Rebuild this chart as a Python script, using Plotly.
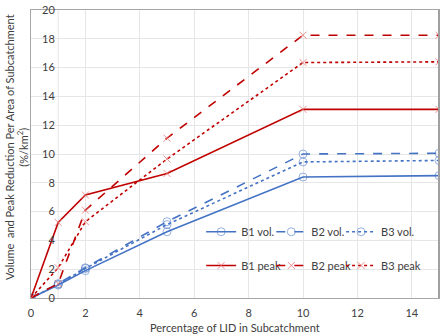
import plotly.graph_objects as go

x_vals = [0, 1, 2, 5, 10, 15]
b1_vol = [0, 0.9, 1.9, 4.6, 8.4, 8.5]
b2_vol = [0, 1.0, 2.1, 5.3, 10.0, 10.05]
b3_vol = [0, 0.95, 2.05, 5.1, 9.45, 9.55]
b1_peak = [0, 5.25, 7.15, 8.65, 13.1, 13.1]
b2_peak = [0, 1.0, 6.1, 11.1, 18.25, 18.25]
b3_peak = [0, 2.1, 5.3, 9.65, 16.35, 16.4]

blue = "#4472C4"
red = "#C00000"
font = "Lato"
txt = "#404040"

fig = go.Figure()

vol_series = [("B1 vol.", b1_vol, "solid"), ("B2 vol.", b2_vol, "dash"), ("B3 vol.", b3_vol, "dot")]
peak_series = [("B1 peak", b1_peak, "solid"), ("B2 peak", b2_peak, "dash"), ("B3 peak", b3_peak, "dot")]

col_x = [0.417, 0.589, 0.760]
row_y = [0.230, 0.113]

legend_defs = {}
k = 1
for row, (series, color, msym, mcol) in enumerate([
        (vol_series, blue, "circle-open", "rgba(68,114,196,0.55)"),
        (peak_series, red, "x-thin-open", "rgba(230,120,120,0.8)")]):
    for col, (name, ys, dash) in enumerate(series):
        lname = "legend" if k == 1 else f"legend{k}"
        fig.add_trace(go.Scatter(
            x=x_vals, y=ys, name=name, mode="lines+markers",
            line=dict(color=color, width=1.6, dash=dash),
            marker=dict(symbol=msym, size=8 if row == 0 else 7, color=mcol,
                        line=dict(width=1, color=mcol)),
            legend=lname,
        ))
        legend_defs[lname] = dict(x=col_x[col], y=row_y[row], xanchor="left", yanchor="middle",
                                  bgcolor="rgba(255,255,255,0)", itemwidth=30,
                                  font=dict(size=11, color=txt))
        k += 1

# faint extra vertical gridline at x=1
fig.add_shape(type="line", xref="x", yref="paper", x0=1, x1=1, y0=0, y1=1,
              line=dict(color="#e6e6e6", width=1), layer="below")
# darker right border
fig.add_shape(type="line", xref="paper", yref="paper", x0=1, x1=1, y0=0, y1=1,
              line=dict(color="#a0a0a0", width=2))

fig.update_layout(
    width=447, height=335,
    margin=dict(l=31, r=8, t=10, b=37, autoexpand=False),
    paper_bgcolor="white", plot_bgcolor="white",
    font=dict(family=font, size=11, color=txt),
    showlegend=True,
    xaxis=dict(range=[0, 15], tick0=0, dtick=2, showgrid=True, gridcolor="#e6e6e6",
               showline=True, linecolor="#a6a6a6", linewidth=1, mirror=True,
               ticks="", zeroline=False, ticklabelstandoff=5, automargin=False,
               tickfont=dict(size=11, color=txt)),
    yaxis=dict(range=[0, 20], tick0=0, dtick=2, showgrid=True, gridcolor="#e6e6e6",
               showline=True, linecolor="#a6a6a6", linewidth=1, mirror=True,
               ticks="", zeroline=False, ticklabelposition="outside", ticklabelstandoff=-27,
               automargin=False, tickfont=dict(size=11, color=txt)),
    **legend_defs,
)

fig.add_annotation(
    text="Percentage of LID in Subcatchment",
    xref="paper", yref="paper", x=0.5, y=-0.1007, xanchor="center", yanchor="middle",
    showarrow=False, font=dict(size=11, color=txt),
)
fig.add_annotation(
    text="Volume  and Peak Reduction Per Area of Subcatchment<br>(%/km<sup>2</sup>)",
    xref="paper", yref="paper", x=-0.036, y=0.525, xanchor="center", yanchor="middle",
    textangle=-90, showarrow=False, font=dict(size=11, color=txt),
)

fig.write_html("out.html", config={"displayModeBar": False},
               post_script="document.body.style.margin='0px';")
